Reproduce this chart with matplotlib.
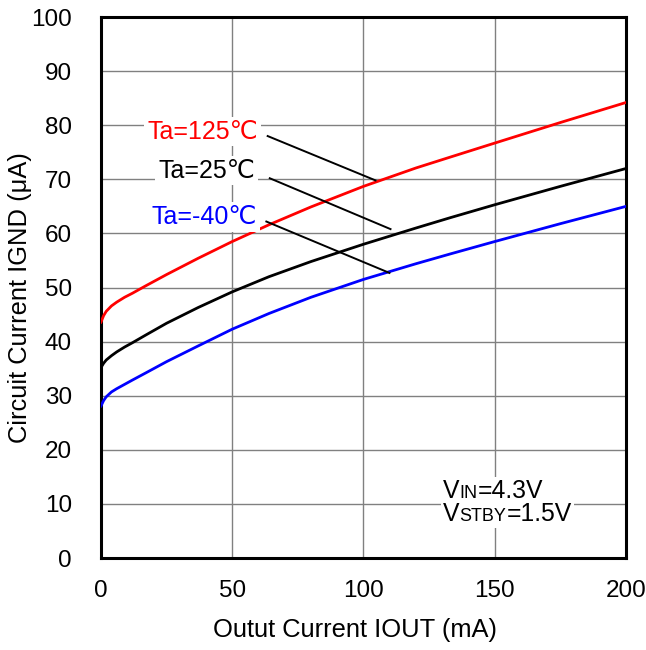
import matplotlib
matplotlib.use("Agg")
import matplotlib.pyplot as plt
from matplotlib.offsetbox import TextArea, HPacker, AnnotationBbox

plt.rcParams['font.family'] = ['Liberation Sans', 'DejaVu Sans']

# output current (mA)
iout = [0, 1, 2, 4, 6, 9, 12, 17, 25, 37, 50, 64, 80, 100, 120, 133, 150, 175, 200]
# circuit current (uA)
ignd_125 = [43.6, 44.8, 45.6, 46.6, 47.3, 48.2, 48.95, 50.3, 52.4, 55.4, 58.5, 61.6, 64.9,
            68.7, 72.1, 74.1, 76.7, 80.5, 84.2]
ignd_25 = [35.2, 36.0, 36.6, 37.4, 38.1, 39.0, 39.8, 41.2, 43.4, 46.3, 49.2, 52.0, 54.8,
           58.0, 61.0, 62.9, 65.3, 68.7, 72.0]
ignd_m40 = [28.1, 29.1, 29.8, 30.7, 31.3, 32.1, 32.9, 34.2, 36.3, 39.2, 42.3, 45.2, 48.2,
            51.5, 54.4, 56.2, 58.5, 61.8, 65.0]

labels = ['Ta=125\u2103', 'Ta=25\u2103', 'Ta=-40\u2103']
colors = ['#ff0000', '#000000', '#0000ff']
label_pos = [(59.8, 78.8), (58.7, 71.6), (59.4, 63.0)]
leaders = [((63.5, 78.0), (104.6, 69.8)),
           ((64.3, 70.2), (110.3, 60.8)),
           ((63.0, 62.2), (109.9, 52.7))]

fig = plt.figure(figsize=(6.46, 6.50), dpi=100)
ax = fig.add_axes([0.1563, 0.1415, 0.8127, 0.8323])

for y, c in zip([ignd_125, ignd_25, ignd_m40], colors):
    ax.plot(iout, y, color=c, lw=2.0, zorder=3)

ax.set_xlim(0, 200)
ax.set_ylim(0, 100)
ax.set_xticks(range(0, 201, 50))
ax.set_yticks(range(0, 101, 10))
ax.grid(True, color='#808080', lw=1.0)
ax.set_axisbelow(True)
ax.tick_params(length=0, labelsize=17.5)
ax.tick_params(axis='y', pad=21)
ax.tick_params(axis='x', pad=16)
for s in ax.spines.values():
    s.set_linewidth(2.2)

fig.text(355 / 646, 1 - 630 / 650, 'Outut Current IOUT (mA)', fontsize=18.4,
         ha='center', va='center')
fig.text(20 / 646, 1 - 298 / 650, 'Circuit Current IGND (\u03bcA)', fontsize=18.4,
         ha='center', va='center', rotation=90)

for txt, c, (lx, ly) in zip(labels, colors, label_pos):
    ax.text(lx, ly, txt, color=c, fontsize=18, ha='right', va='center',
            bbox=dict(facecolor='white', edgecolor='none', pad=2), zorder=4)
for (p0, p1) in leaders:
    ax.plot([p0[0], p1[0]], [p0[1], p1[1]], color='black', lw=1.4, zorder=4)

def cond_line(main, sub, rest, x, y):
    parts = [TextArea(main, textprops=dict(fontsize=17.8)),
             TextArea(sub, textprops=dict(fontsize=13)),
             TextArea(rest, textprops=dict(fontsize=17.8))]
    box = HPacker(children=parts, align='baseline', pad=0, sep=0)
    ab = AnnotationBbox(box, (x, y), box_alignment=(0, 0.5), frameon=True,
                        pad=0.15, bboxprops=dict(facecolor='white', edgecolor='none'))
    ab.set_zorder(4)
    ax.add_artist(ab)

cond_line('V', 'IN', '=4.3V', 130.3, 12.4)
cond_line('V', 'STBY', '=1.5V', 130.3, 8.2)

fig.savefig('out.png', dpi=100)
